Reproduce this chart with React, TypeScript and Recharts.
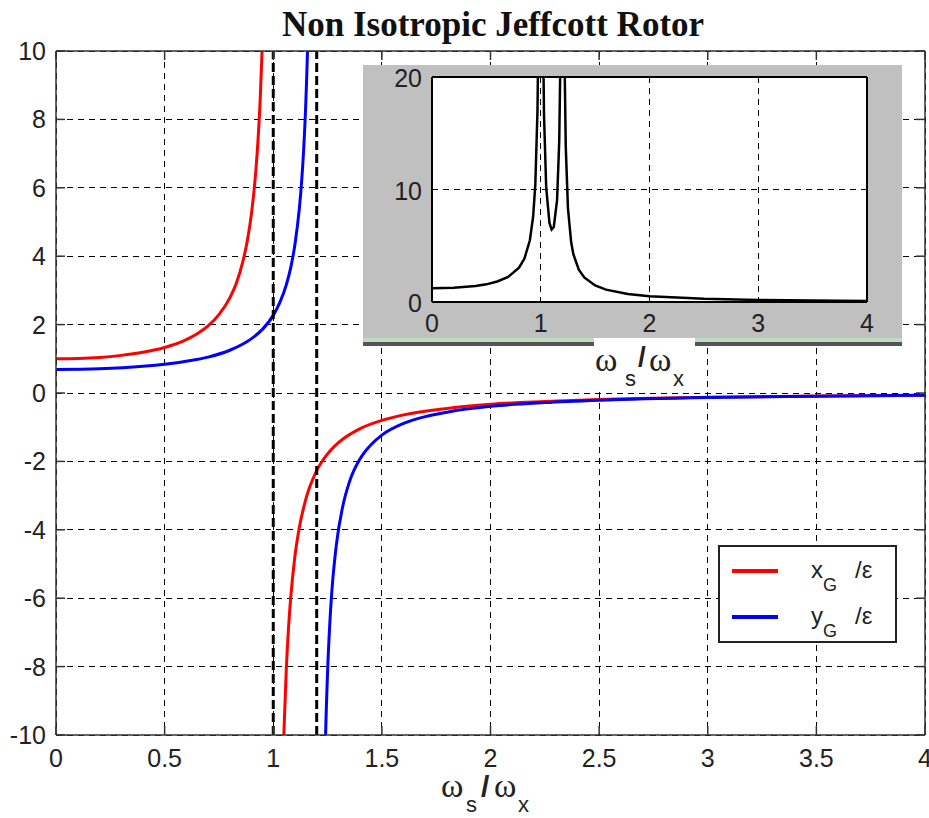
import React from 'react';
import { LineChart, Line, XAxis, YAxis, CartesianGrid, ReferenceLine, Legend } from 'recharts';

// ---- data ----
const X_TICKS = [0, 0.5, 1, 1.5, 2, 2.5, 3, 3.5, 4];
const Y_TICKS = [-10, -8, -6, -4, -2, 0, 2, 4, 6, 8, 10];
const INSET_X_TICKS = [0, 1, 2, 3, 4];
const INSET_Y_TICKS = [0, 10, 20];
const ASYMPTOTES = [1, 1.2];

// x_G / eps, before and after the first critical speed
const XG_LOW_R = [0, 0.1, 0.2, 0.3, 0.4, 0.5, 0.6, 0.65, 0.7, 0.75, 0.8, 0.83, 0.86, 0.88, 0.9, 0.91, 0.92, 0.93, 0.94, 0.95, 0.96];
const XG_LOW = [1.0, 1.01, 1.04, 1.1, 1.19, 1.33, 1.56, 1.73, 1.96, 2.29, 2.78, 3.21, 3.84, 4.43, 5.26, 5.82, 6.51, 7.4, 8.59, 10.26, 12.76];
const XG_HIGH_R = [1.04, 1.05, 1.06, 1.07, 1.08, 1.1, 1.12, 1.15, 1.2, 1.25, 1.3, 1.4, 1.5, 1.6, 1.8, 2.0, 2.25, 2.5, 3.0, 3.5, 4.0];
const XG_HIGH = [-12.25, -9.76, -8.09, -6.9, -6.01, -4.76, -3.93, -3.1, -2.27, -1.78, -1.45, -1.04, -0.8, -0.64, -0.45, -0.33, -0.25, -0.19, -0.125, -0.089, -0.067];

// y_G / eps, before and after the second critical speed
const YG_LOW_R = [0, 0.2, 0.4, 0.6, 0.7, 0.8, 0.9, 0.95, 1.0, 1.03, 1.06, 1.08, 1.1, 1.12, 1.13, 1.14, 1.15, 1.16, 1.17];
const YG_LOW = [0.69, 0.71, 0.78, 0.93, 1.05, 1.25, 1.59, 1.86, 2.27, 2.64, 3.16, 3.65, 4.35, 5.39, 6.13, 7.12, 8.51, 10.59, 14.06];
const YG_HIGH_R = [1.23, 1.24, 1.25, 1.26, 1.27, 1.29, 1.32, 1.35, 1.4, 1.45, 1.5, 1.6, 1.7, 1.8, 2.0, 2.25, 2.5, 3.0, 3.5, 4.0];
const YG_HIGH = [-13.7, -10.25, -8.16, -6.78, -5.78, -4.46, -3.31, -2.61, -1.92, -1.51, -1.23, -0.89, -0.69, -0.56, -0.39, -0.28, -0.21, -0.13, -0.092, -0.069];

// inset: amplitude of the orbit
const AMP_R = [0, 0.2, 0.4, 0.5, 0.6, 0.7, 0.8, 0.85, 0.9, 0.93, 0.95, 0.97, 0.98, 1.0, 1.02, 1.03, 1.05, 1.08, 1.1, 1.12, 1.15, 1.17, 1.18, 1.2, 1.22, 1.23, 1.25, 1.28, 1.3, 1.35, 1.4, 1.5, 1.6, 1.8, 2.0, 2.5, 3.0, 3.5, 4.0];
const AMP = [1.22, 1.26, 1.42, 1.57, 1.82, 2.22, 3.05, 3.86, 5.49, 7.6, 10.43, 17.0, 25.4, 60, 24.9, 16.6, 10.2, 7.03, 6.45, 6.67, 9.06, 14.3, 21.1, 60, 20.8, 13.8, 8.35, 5.28, 4.25, 2.88, 2.18, 1.47, 1.1, 0.72, 0.51, 0.28, 0.18, 0.13, 0.1];

const LEGEND_ITEMS = [
  { sym: 'x', color: '#ff0000' },
  { sym: 'y', color: '#0000ff' },
];

const pts = (r: number[], v: number[]) => r.map((x, i) => ({ r: x, v: v[i] }));

// ---- layout ----
const W = 929;
const H = 818;
const MAIN = { top: 51, bottom: 735, left: 56, right: 925 };
const INSET = { left: 363, top: 65, width: 539, height: 273 };
const SANS = '"Liberation Sans", Arial, sans-serif';
const SERIF = '"Liberation Serif", "Times New Roman", serif';
const FRAME = '#333';
const TICK_LEN = 9;

const MainXTick = (props: any) => {
  const { x, y, payload } = props;
  return (
    <g>
      <line x1={x} x2={x} y1={y} y2={y - TICK_LEN} stroke={FRAME} strokeWidth={1.5} />
      <line x1={x} x2={x} y1={MAIN.top} y2={MAIN.top + TICK_LEN} stroke={FRAME} strokeWidth={1.5} />
      <text x={x} y={y + 32} textAnchor="middle" fontFamily={SANS} fontSize={25} fill="#222">
        {payload.value}
      </text>
    </g>
  );
};

const MainYTick = (props: any) => {
  const { x, y, payload } = props;
  return (
    <g>
      <line x1={x} x2={x + TICK_LEN} y1={y} y2={y} stroke={FRAME} strokeWidth={1.5} />
      <line x1={MAIN.right - TICK_LEN} x2={MAIN.right} y1={y} y2={y} stroke={FRAME} strokeWidth={1.5} />
      <text x={x - 10} y={y + 9} textAnchor="end" fontFamily={SANS} fontSize={25} fill="#222">
        {payload.value}
      </text>
    </g>
  );
};

const InsetXTick = (props: any) => {
  const { x, y, payload } = props;
  return (
    <text x={x} y={y + 30} textAnchor="middle" fontFamily={SANS} fontSize={25} fill="#222">
      {payload.value}
    </text>
  );
};

const InsetYTick = (props: any) => {
  const { x, y, payload } = props;
  return (
    <text x={x - 10} y={y + 10} textAnchor="end" fontFamily={SANS} fontSize={25} fill="#222">
      {payload.value}
    </text>
  );
};

const LegendBox = () => (
  <svg width={179} height={98} style={{ display: 'block' }}>
    <rect x={1} y={1} width={177} height={96} fill="#fff" stroke="#222" strokeWidth={2} />
    {LEGEND_ITEMS.map((it, i) => (
      <g key={it.sym} transform={`translate(0, ${i * 46})`}>
        <line x1={14} x2={60} y1={26} y2={26} stroke={it.color} strokeWidth={4} />
        <text x={93} y={33} fontFamily={SANS} fontSize={24} fill="#222">
          {it.sym}
          <tspan fontSize={18} dy={13}>G</tspan>
        </text>
        <text x={137} y={33} fontFamily={SANS} fontSize={24} fill="#222">/ε</text>
      </g>
    ))}
  </svg>
);

export default function App() {
  return (
    <div style={{ position: 'absolute', left: 0, top: 0, width: W, height: H, background: '#fff', overflow: 'hidden' }}>
      <LineChart width={W} height={H} margin={{ top: MAIN.top, right: W - MAIN.right, bottom: 0, left: 0 }}>
        <CartesianGrid stroke="#000" strokeDasharray="6 5" strokeWidth={1} shapeRendering="crispEdges" />
        <XAxis
          type="number"
          dataKey="r"
          domain={[0, 4]}
          ticks={X_TICKS}
          interval={0}
          tickSize={0}
          tickMargin={0}
          tickLine={false}
          axisLine={{ stroke: FRAME, strokeWidth: 1.5 }}
          height={H - MAIN.bottom}
          tick={<MainXTick />}
        />
        <YAxis
          type="number"
          domain={[-10, 10]}
          allowDataOverflow
          ticks={Y_TICKS}
          interval={0}
          tickSize={0}
          tickMargin={0}
          tickLine={false}
          axisLine={{ stroke: FRAME, strokeWidth: 1.5 }}
          width={MAIN.left}
          tick={<MainYTick />}
        />
        <Line data={pts(XG_LOW_R, XG_LOW)} dataKey="v" type="monotone" stroke="#ff0000" strokeWidth={3} dot={false} isAnimationActive={false} />
        <Line data={pts(XG_HIGH_R, XG_HIGH)} dataKey="v" type="monotone" stroke="#ff0000" strokeWidth={3} dot={false} isAnimationActive={false} />
        <Line data={pts(YG_LOW_R, YG_LOW)} dataKey="v" type="monotone" stroke="#0000ff" strokeWidth={3} dot={false} isAnimationActive={false} />
        <Line data={pts(YG_HIGH_R, YG_HIGH)} dataKey="v" type="monotone" stroke="#0000ff" strokeWidth={3} dot={false} isAnimationActive={false} />
        {ASYMPTOTES.map((a) => (
          <ReferenceLine key={a} x={a} stroke="#000" strokeWidth={3} strokeDasharray="9 4" />
        ))}
        <ReferenceLine y={10} stroke={FRAME} strokeWidth={1.5} />
        <ReferenceLine x={4} stroke={FRAME} strokeWidth={1.5} />
        <Legend
          layout="vertical"
          align="center"
          verticalAlign="middle"
          content={<LegendBox />}
          wrapperStyle={{ left: 718, top: 545, width: 179, height: 98 }}
        />
      </LineChart>

      {/* inset panel */}
      <div
        style={{
          position: 'absolute',
          left: INSET.left,
          top: INSET.top,
          width: INSET.width,
          height: INSET.height,
          background: '#c0c0c0',
        }}
      >
        <LineChart width={INSET.width} height={INSET.height} margin={{ top: 12, right: 35, bottom: 0, left: 0 }}>
          <CartesianGrid stroke="#000" strokeDasharray="6 5" strokeWidth={1} fill="#fff" fillOpacity={1} shapeRendering="crispEdges" />
          <XAxis
            type="number"
            dataKey="r"
            domain={[0, 4]}
            ticks={INSET_X_TICKS}
            interval={0}
            tickSize={0}
            tickMargin={0}
            tickLine={false}
            axisLine={{ stroke: '#000', strokeWidth: 2 }}
            height={36}
            tick={<InsetXTick />}
          />
          <YAxis
            type="number"
            domain={[0, 20]}
            allowDataOverflow
            ticks={INSET_Y_TICKS}
            interval={0}
            tickSize={0}
            tickMargin={0}
            tickLine={false}
            axisLine={{ stroke: '#000', strokeWidth: 2 }}
            width={69}
            tick={<InsetYTick />}
          />
          <Line data={pts(AMP_R, AMP)} dataKey="v" type="linear" stroke="#000" strokeWidth={2.5} dot={false} isAnimationActive={false} />
          <ReferenceLine y={20} stroke="#000" strokeWidth={2} />
          <ReferenceLine x={4} stroke="#000" strokeWidth={2} />
        </LineChart>
      </div>

      {/* titles and axis labels */}
      <svg width={W} height={H} style={{ position: 'absolute', left: 0, top: 0, pointerEvents: 'none' }}>
        <text x={493} y={36} textAnchor="middle" fontFamily={SERIF} fontWeight="bold" fontSize={35} fill="#111">
          Non Isotropic Jeffcott Rotor
        </text>

        <rect x={INSET.left} y={338} width={INSET.width} height={4} fill="#c0dcc0" />
        <rect x={INSET.left} y={342} width={INSET.width} height={4} fill="#555" />
        <rect x={594} y={338} width={101} height={50} fill="#fff" />

        <g fontFamily={SERIF} fill="#222">
          <text x={595} y={371} fontSize={34}>ω</text>
          <text x={625} y={386} fontSize={22} fontFamily={SANS}>s</text>
          <text x={638} y={366} fontSize={28} fontWeight="bold" fontFamily={SANS}>/</text>
          <text x={649} y={371} fontSize={34}>ω</text>
          <text x={673} y={386} fontSize={22} fontFamily={SANS}>x</text>
        </g>

        <g fontFamily={SERIF} fill="#222">
          <text x={441} y={797} fontSize={34}>ω</text>
          <text x={466} y={812} fontSize={22} fontFamily={SANS}>s</text>
          <text x={481} y={797} fontSize={30} fontWeight="bold" fontFamily={SANS}>/</text>
          <text x={494} y={797} fontSize={34}>ω</text>
          <text x={518} y={812} fontSize={22} fontFamily={SANS}>x</text>
        </g>
      </svg>
    </div>
  );
}
